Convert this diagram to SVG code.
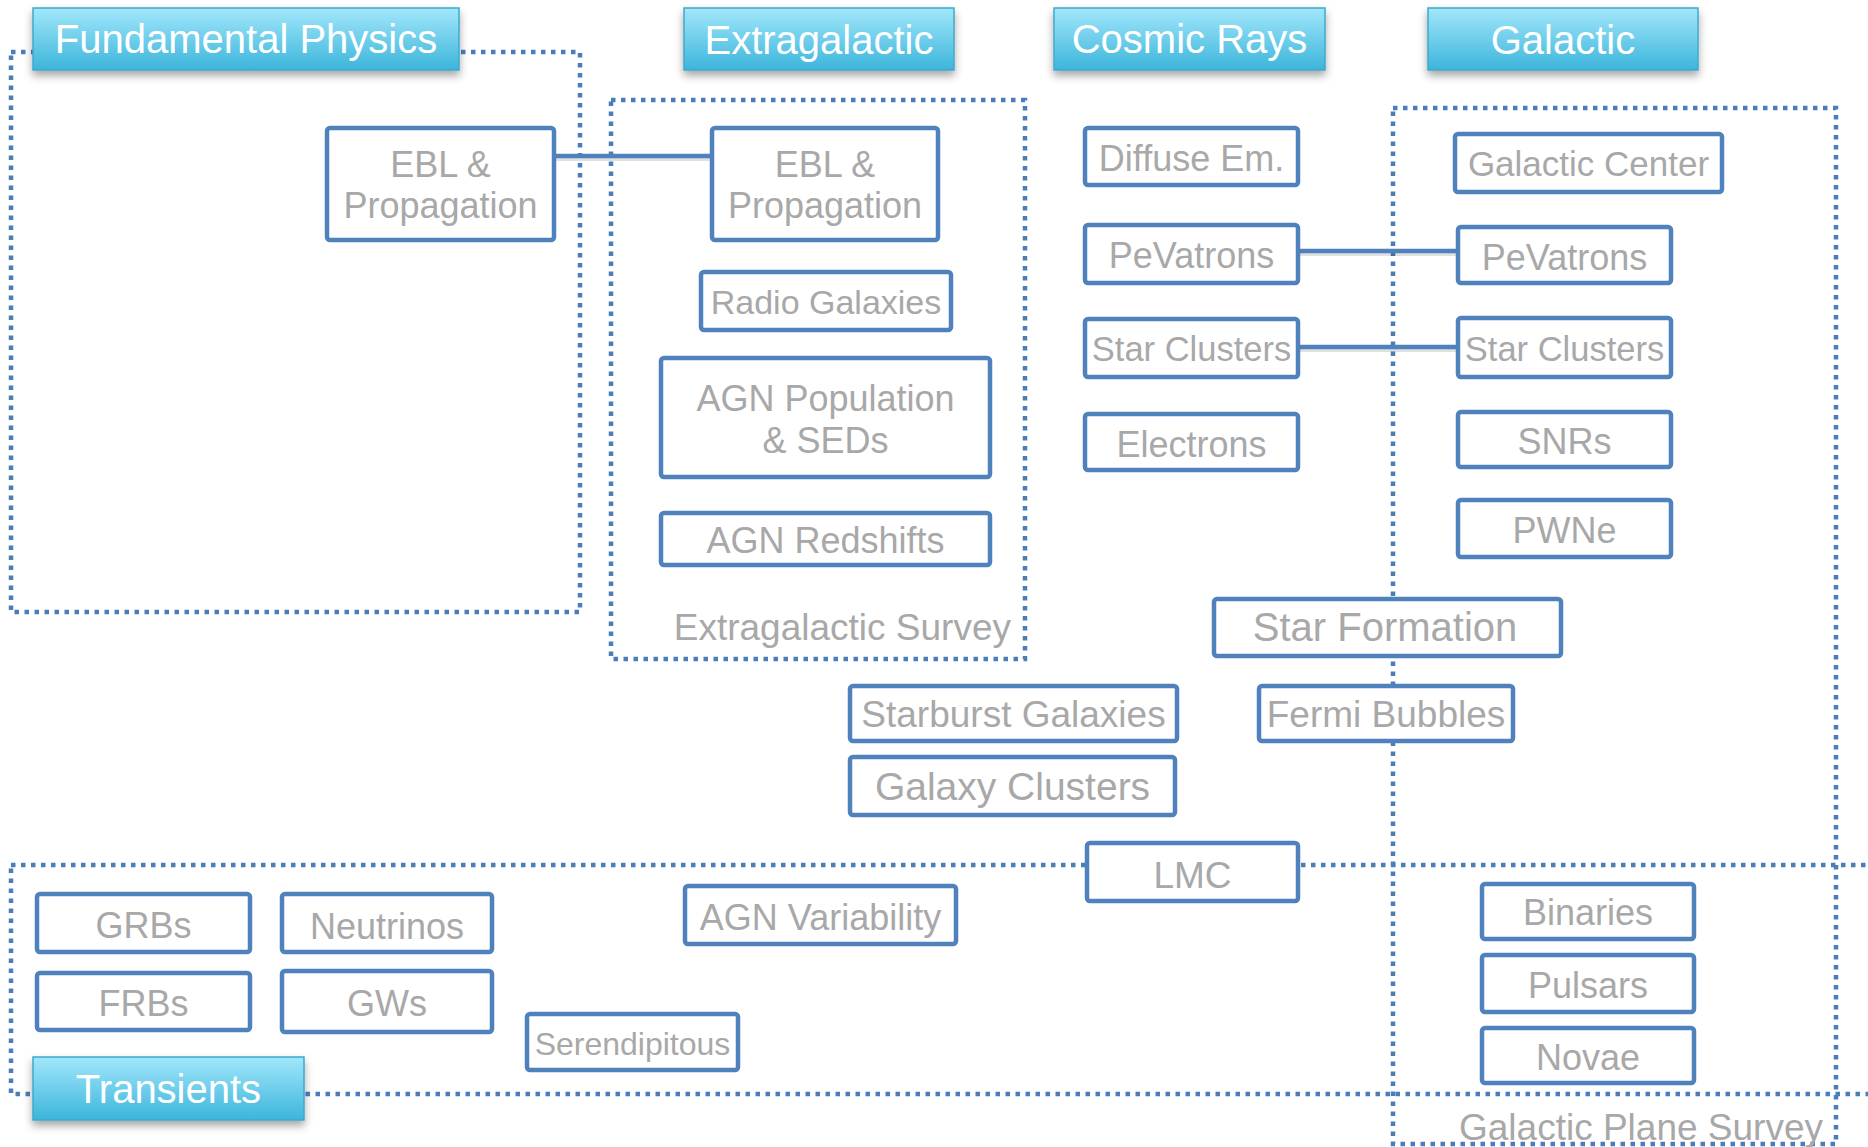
<svg xmlns="http://www.w3.org/2000/svg" width="1868" height="1147" viewBox="0 0 1868 1147">
<style>
.bg{fill:#ffffff}
.grp{fill:none;stroke:#4a7ebb;stroke-width:4.5;stroke-dasharray:4.5 5.5}
.node rect{fill:#ffffff;stroke:#4f81bd;stroke-width:4.5}
.node text{font-family:"Liberation Sans",Arial,sans-serif;font-size:36px;fill:#a8a8a8;text-anchor:middle}
.hdr rect{fill:url(#hg);stroke:#3fa9cc;stroke-width:1.5;filter:url(#sh)}
.hdr text{font-family:"Liberation Sans",Arial,sans-serif;font-size:40px;fill:#ffffff;text-anchor:middle}
.lbl{font-family:"Liberation Sans",Arial,sans-serif;font-size:37px;fill:#a8a8a8;text-anchor:end}
.conn line{stroke:#4f81bd;stroke-width:4.5}
.conn line.shd{stroke:#000000;stroke-opacity:0.12;stroke-width:4}
</style>
<defs>
<linearGradient id="hg" x1="0" y1="0" x2="0" y2="1">
<stop offset="0" stop-color="#a2e7fb"/>
<stop offset="1" stop-color="#3cb5db"/>
</linearGradient>
<filter id="sh" x="-10%" y="-20%" width="120%" height="160%">
<feDropShadow dx="0" dy="5" stdDeviation="4" flood-color="#000000" flood-opacity="0.35"/>
</filter>
</defs>
<rect class="bg" x="0" y="0" width="1868" height="1147"/>

<g id="groups">
<rect id="grp-fundamental" class="grp" x="11" y="52" width="569" height="560"/>
<rect id="grp-extragalactic-survey" class="grp" x="611" y="100" width="414" height="559"/>
<rect id="grp-galactic-plane-survey" class="grp" x="1393" y="108" width="443" height="1036"/>
<rect id="grp-transients" class="grp" x="11" y="865" width="1900" height="229"/>
<text class="lbl" x="1011" y="640">Extragalactic Survey</text>
<text class="lbl" x="1823" y="1140">Galactic Plane Survey</text>
</g>

<g id="connectors" class="conn">
<line class="shd" x1="556" y1="159" x2="710" y2="159"/>
<line class="shd" x1="1300" y1="254" x2="1456" y2="254"/>
<line class="shd" x1="1300" y1="350" x2="1456" y2="350"/>
<line x1="556" y1="156" x2="710" y2="156"/>
<line x1="1300" y1="251" x2="1456" y2="251"/>
<line x1="1300" y1="347" x2="1456" y2="347"/>
</g>

<g id="ebl-fp" class="node"><rect x="327" y="128" width="227" height="112" rx="3"/><text x="440.5" y="177">EBL &amp;</text><text x="440.5" y="218">Propagation</text></g>
<g id="ebl-eg" class="node"><rect x="712" y="128" width="226" height="112" rx="3"/><text x="825" y="177">EBL &amp;</text><text x="825" y="218">Propagation</text></g>
<g id="radio-galaxies" class="node"><rect x="701" y="272" width="250" height="58" rx="3"/><text x="826" y="314" style="font-size:34px">Radio Galaxies</text></g>
<g id="agn-population" class="node"><rect x="661" y="358" width="329" height="119" rx="3"/><text x="825.5" y="411">AGN Population</text><text x="825.5" y="453">&amp; SEDs</text></g>
<g id="agn-redshifts" class="node"><rect x="661" y="513" width="329" height="52" rx="3"/><text x="825.5" y="553">AGN Redshifts</text></g>

<g id="diffuse-em" class="node"><rect x="1085" y="128" width="213" height="57" rx="3"/><text x="1191.5" y="171">Diffuse Em.</text></g>
<g id="pevatrons-cr" class="node"><rect x="1085" y="225" width="213" height="58" rx="3"/><text x="1191.5" y="268">PeVatrons</text></g>
<g id="star-clusters-cr" class="node"><rect x="1085" y="319" width="213" height="58" rx="3"/><text x="1191.5" y="361" style="font-size:34.5px">Star Clusters</text></g>
<g id="electrons" class="node"><rect x="1085" y="414" width="213" height="56" rx="3"/><text x="1191.5" y="457">Electrons</text></g>

<g id="galactic-center" class="node"><rect x="1455" y="134" width="267" height="58" rx="3"/><text x="1588.5" y="176" style="font-size:35px">Galactic Center</text></g>
<g id="pevatrons-g" class="node"><rect x="1458" y="227" width="213" height="56" rx="3"/><text x="1564.5" y="270">PeVatrons</text></g>
<g id="star-clusters-g" class="node"><rect x="1458" y="318" width="213" height="59" rx="3"/><text x="1564.5" y="361" style="font-size:34.5px">Star Clusters</text></g>
<g id="snrs" class="node"><rect x="1458" y="412" width="213" height="55" rx="3"/><text x="1564.5" y="454">SNRs</text></g>
<g id="pwne" class="node"><rect x="1458" y="500" width="213" height="57" rx="3"/><text x="1564.5" y="543">PWNe</text></g>

<g id="star-formation" class="node"><rect x="1214" y="599" width="347" height="57" rx="3"/><text x="1385" y="641" style="font-size:40px">Star Formation</text></g>
<g id="fermi-bubbles" class="node"><rect x="1259" y="686" width="254" height="55" rx="3"/><text x="1386" y="727" style="font-size:37px">Fermi Bubbles</text></g>
<g id="starburst-galaxies" class="node"><rect x="850" y="686" width="327" height="55" rx="3"/><text x="1013.5" y="727" style="font-size:37px">Starburst Galaxies</text></g>
<g id="galaxy-clusters" class="node"><rect x="850" y="757" width="325" height="58" rx="3"/><text x="1012.5" y="800" style="font-size:39px">Galaxy Clusters</text></g>
<g id="lmc" class="node"><rect x="1087" y="843" width="211" height="58" rx="3"/><text x="1192.5" y="888" style="font-size:37px">LMC</text></g>
<g id="agn-variability" class="node"><rect x="685" y="886" width="271" height="58" rx="3"/><text x="820.5" y="930">AGN Variability</text></g>

<g id="grbs" class="node"><rect x="37" y="894" width="213" height="58" rx="3"/><text x="143.5" y="938">GRBs</text></g>
<g id="neutrinos" class="node"><rect x="282" y="894" width="210" height="58" rx="3"/><text x="387" y="939">Neutrinos</text></g>
<g id="frbs" class="node"><rect x="37" y="973" width="213" height="57" rx="3"/><text x="143.5" y="1016">FRBs</text></g>
<g id="gws" class="node"><rect x="282" y="971" width="210" height="61" rx="3"/><text x="387" y="1016">GWs</text></g>
<g id="serendipitous" class="node"><rect x="527" y="1014" width="211" height="56" rx="3"/><text x="632.5" y="1055" style="font-size:32px">Serendipitous</text></g>

<g id="binaries" class="node"><rect x="1482" y="884" width="212" height="55" rx="3"/><text x="1588" y="925">Binaries</text></g>
<g id="pulsars" class="node"><rect x="1482" y="955" width="212" height="57" rx="3"/><text x="1588" y="998">Pulsars</text></g>
<g id="novae" class="node"><rect x="1482" y="1028" width="212" height="55" rx="3"/><text x="1588" y="1070">Novae</text></g>

<g id="hdr-fundamental" class="hdr"><rect x="33" y="8" width="426" height="62"/><text x="246" y="53">Fundamental Physics</text></g>
<g id="hdr-extragalactic" class="hdr"><rect x="684" y="8" width="270" height="62"/><text x="819" y="54">Extragalactic</text></g>
<g id="hdr-cosmic-rays" class="hdr"><rect x="1054" y="8" width="271" height="62"/><text x="1189.5" y="53">Cosmic Rays</text></g>
<g id="hdr-galactic" class="hdr"><rect x="1428" y="8" width="270" height="62"/><text x="1563" y="54">Galactic</text></g>
<g id="hdr-transients" class="hdr"><rect x="33" y="1057" width="271" height="63"/><text x="168.5" y="1103">Transients</text></g>
</svg>
